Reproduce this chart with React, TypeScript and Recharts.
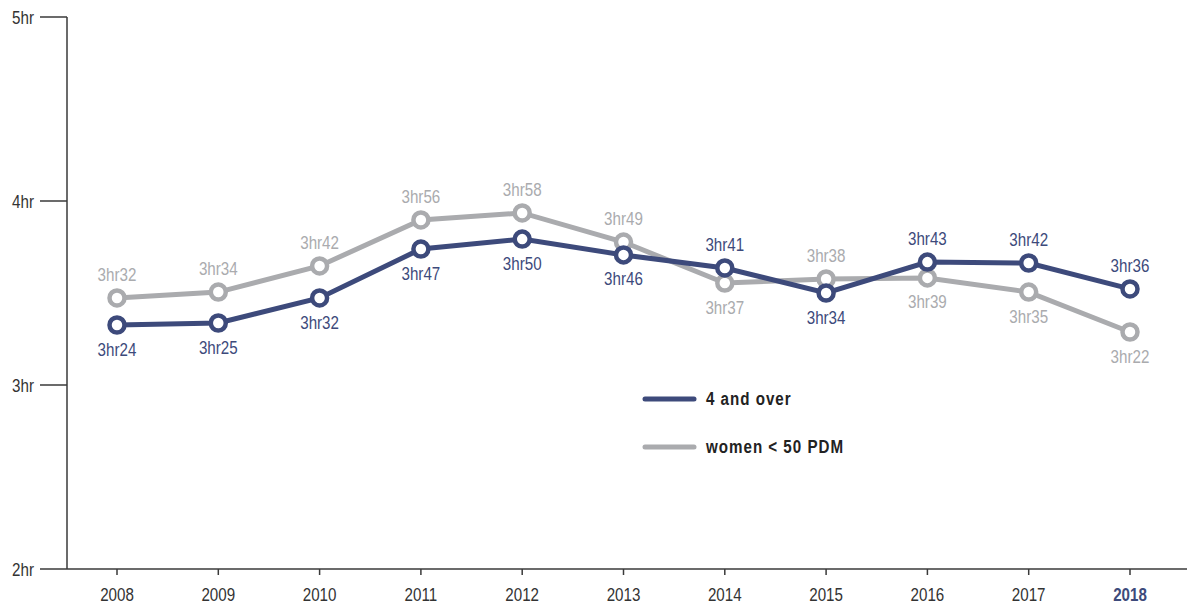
import { LabelList, Line, LineChart, XAxis, YAxis } from "recharts";

const years = ["2008", "2009", "2010", "2011", "2012", "2013", "2014", "2015", "2016", "2017", "2018"];

// hours, read from point positions
const fourAndOver = [3.326, 3.337, 3.473, 3.739, 3.793, 3.707, 3.636, 3.5, 3.668, 3.663, 3.522];
const womenUnder50 = [3.473, 3.505, 3.647, 3.897, 3.935, 3.777, 3.554, 3.576, 3.582, 3.505, 3.288];

const fourLabels = ["3hr24", "3hr25", "3hr32", "3hr47", "3hr50", "3hr46", "3hr41", "3hr34", "3hr43", "3hr42", "3hr36"];
const womenLabels = ["3hr32", "3hr34", "3hr42", "3hr56", "3hr58", "3hr49", "3hr37", "3hr38", "3hr39", "3hr35", "3hr22"];

// label placement relative to each point
const fourPlacement = ["below", "below", "below", "below", "below", "below", "above", "below", "above", "above", "above"];
const womenPlacement = ["above", "above", "above", "above", "above", "above", "below", "above", "below", "below", "below"];

const yTicks = [2, 3, 4, 5];

const BLUE = "#3d4a7b";
const GRAY = "#aaabae";
const AXIS = "#3a3a3a";
const FONT = "'Liberation Sans', Arial, sans-serif";
const SQUEEZE = 0.82; // condensed look

const data = years.map((year, i) => ({
  year,
  four: fourAndOver[i],
  women: womenUnder50[i],
}));

// narrow text: regular font squeezed horizontally around its anchor
function NarrowText({ x, y, dy, anchor, fill, bold, children, spacing, size }: any) {
  return (
    <text
      transform={`translate(${x},${y}) scale(${SQUEEZE},1)`}
      x={0}
      y={0}
      dy={dy}
      textAnchor={anchor}
      fill={fill}
      fontWeight={bold ? "bold" : "normal"}
      fontSize={size ?? 18.5}
      fontFamily={FONT}
      letterSpacing={spacing}
    >
      {children}
    </text>
  );
}

function makeLabel(texts: string[], placement: string[], color: string) {
  return (props: any) => {
    const { x, y, index } = props;
    const above = placement[index] === "above";
    return (
      <NarrowText x={x} y={above ? y - 24 : y + 24} dy="0.355em" anchor="middle" fill={color}>
        {texts[index]}
      </NarrowText>
    );
  };
}

function XTick(props: any) {
  const { x, y, payload } = props;
  const last = payload.value === years[years.length - 1];
  return (
    <NarrowText x={x} y={y} dy="0.71em" anchor="middle" fill={last ? BLUE : "#333"} bold={last}>
      {payload.value}
    </NarrowText>
  );
}

function YTick(props: any) {
  const { x, y, payload } = props;
  return (
    <NarrowText x={x} y={y} dy="0.355em" anchor="end" fill="#333">
      {`${payload.value}hr`}
    </NarrowText>
  );
}

const legendItems = [
  { name: "4 and over", color: BLUE },
  { name: "women < 50 PDM", color: GRAY },
];

function LegendBox() {
  return (
    <svg width={260} height={80} style={{ position: "absolute", left: 640, top: 385 }}>
      {legendItems.map((item, i) => (
        <g key={item.name}>
          <line
            x1={5}
            x2={54}
            y1={14 + i * 48}
            y2={14 + i * 48}
            stroke={item.color}
            strokeWidth={5}
            strokeLinecap="round"
          />
          <NarrowText x={66} y={13 + i * 48} dy="0.355em" anchor="start" fill="#222" bold spacing={1.2}>
            {item.name}
          </NarrowText>
        </g>
      ))}
    </svg>
  );
}

export default function App() {
  return (
    <div style={{ position: "absolute", left: 0, top: 0, width: 1187, height: 606, background: "#fff" }}>
      <LineChart
        width={1187}
        height={606}
        data={data}
        margin={{ top: 17, right: 0, left: 0, bottom: 0 }}
      >
        <XAxis
          dataKey="year"
          scale="point"
          padding={{ left: 50, right: 57 }}
          height={37}
          tickSize={6}
          tickMargin={13}
          stroke={AXIS}
          strokeWidth={1.5}
          tick={<XTick />}
        />
        <YAxis
          type="number"
          domain={[2, 5]}
          ticks={yTicks}
          width={67}
          tickSize={27}
          tickMargin={6}
          stroke={AXIS}
          strokeWidth={1.5}
          tick={<YTick />}
        />
        <Line
          dataKey="women"
          name="women < 50 PDM"
          stroke={GRAY}
          strokeWidth={5}
          dot={{ r: 7.5, fill: "#fff", stroke: GRAY, strokeWidth: 4.5 }}
          activeDot={false}
          isAnimationActive={false}
        >
          <LabelList dataKey="women" content={makeLabel(womenLabels, womenPlacement, GRAY)} />
        </Line>
        <Line
          dataKey="four"
          name="4 and over"
          stroke={BLUE}
          strokeWidth={5}
          dot={{ r: 7.5, fill: "#fff", stroke: BLUE, strokeWidth: 4.5 }}
          activeDot={false}
          isAnimationActive={false}
        >
          <LabelList dataKey="four" content={makeLabel(fourLabels, fourPlacement, BLUE)} />
        </Line>
      </LineChart>
      <LegendBox />
    </div>
  );
}
